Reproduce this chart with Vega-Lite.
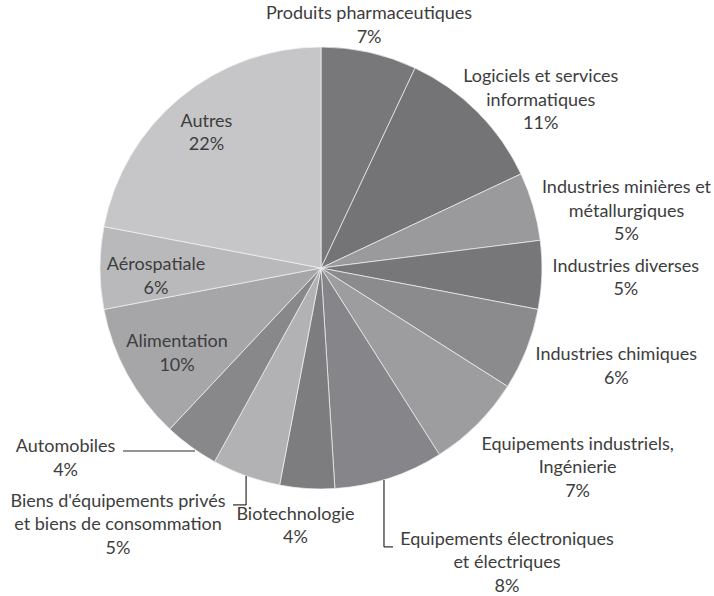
{
  "$schema": "https://vega.github.io/schema/vega-lite/v6.json",
  "width": 642,
  "height": 536,
  "autosize": {"type": "none"},
  "padding": {"left": 0, "top": 0, "right": 72, "bottom": 60},
  "background": "white",
  "config": {"view": {"stroke": null}, "text": {"font": "Lato", "fontSize": 18, "fill": "#3d3d3d"}},
  "data": {"values": [
    {"rank": 1, "name": "Produits pharmaceutiques", "share": 7},
    {"rank": 2, "name": "Logiciels et services\ninformatiques", "share": 11},
    {"rank": 3, "name": "Industries minières et\nmétallurgiques", "share": 5},
    {"rank": 4, "name": "Industries diverses", "share": 5},
    {"rank": 5, "name": "Industries chimiques", "share": 6},
    {"rank": 6, "name": "Equipements industriels,\nIngénierie", "share": 7},
    {"rank": 7, "name": "Equipements électroniques\net électriques", "share": 8},
    {"rank": 8, "name": "Biotechnologie", "share": 4},
    {"rank": 9, "name": "Biens d'équipements  privés\net biens de consommation", "share": 5},
    {"rank": 10, "name": "Automobiles", "share": 4},
    {"rank": 11, "name": "Alimentation", "share": 10},
    {"rank": 12, "name": "Aérospatiale", "share": 6},
    {"rank": 13, "name": "Autres", "share": 22}
  ]},
  "transform": [
    {"stack": "share", "groupby": [], "sort": [{"field": "rank", "order": "ascending"}], "as": ["s0", "s1"]},
    {"calculate": "(datum.s0 + datum.s1) / 2", "as": "mid"},
    {"calculate": "datum.name + '\\n' + datum.share + '%'", "as": "label"}
  ],
  "layer": [
    {
      "mark": {"type": "arc", "outerRadius": 221, "stroke": "#f2f2f2", "strokeWidth": 0.7},
      "encoding": {
        "theta": {"field": "s0", "type": "quantitative", "scale": {"domain": [0, 100]}},
        "theta2": {"field": "s1"},
        "color": {"field": "rank", "type": "ordinal", "legend": null,
          "scale": {"domain": [1,2,3,4,5,6,7,8,9,10,11,12,13],
            "range": ["#78787b", "#747477", "#9a9a9d", "#77777a", "#8b8b8e", "#9d9da0", "#86868a", "#7d7d80", "#b2b2b4", "#88888b", "#a6a6a8", "#b9b9bb", "#c6c6c8"]}}
      }
    },
    {"transform": [{"filter": "datum.rank == 1"}], "mark": {"type": "text", "radius": 257, "dx": -8, "dy": -3, "lineBreak": "\n", "lineHeight": 23.5, "align": "center", "baseline": "middle"},
     "encoding": {"theta": {"field": "mid", "type": "quantitative", "stack": null, "scale": {"domain": [0, 100]}}, "text": {"field": "label"}}},
    {"transform": [{"filter": "datum.rank == 2"}], "mark": {"type": "text", "radius": 291, "dx": 14, "dy": 15, "lineBreak": "\n", "lineHeight": 23.5, "align": "center", "baseline": "middle"},
     "encoding": {"theta": {"field": "mid", "type": "quantitative", "stack": null, "scale": {"domain": [0, 100]}}, "text": {"field": "label"}}},
    {"transform": [{"filter": "datum.rank == 3"}], "mark": {"type": "text", "radius": 315, "dx": 3, "dy": 8, "lineBreak": "\n", "lineHeight": 23.5, "align": "center", "baseline": "middle"},
     "encoding": {"theta": {"field": "mid", "type": "quantitative", "stack": null, "scale": {"domain": [0, 100]}}, "text": {"field": "label"}}},
    {"transform": [{"filter": "datum.rank == 4"}], "mark": {"type": "text", "radius": 305, "dx": 0, "dy": -11, "lineBreak": "\n", "lineHeight": 23.5, "align": "center", "baseline": "middle"},
     "encoding": {"theta": {"field": "mid", "type": "quantitative", "stack": null, "scale": {"domain": [0, 100]}}, "text": {"field": "label"}}},
    {"transform": [{"filter": "datum.rank == 5"}], "mark": {"type": "text", "radius": 308, "dx": 9, "dy": -26, "lineBreak": "\n", "lineHeight": 23.5, "align": "center", "baseline": "middle"},
     "encoding": {"theta": {"field": "mid", "type": "quantitative", "stack": null, "scale": {"domain": [0, 100]}}, "text": {"field": "label"}}},
    {"transform": [{"filter": "datum.rank == 6"}], "mark": {"type": "text", "radius": 312, "dx": 36, "dy": -44, "lineBreak": "\n", "lineHeight": 23.5, "align": "center", "baseline": "middle"},
     "encoding": {"theta": {"field": "mid", "type": "quantitative", "stack": null, "scale": {"domain": [0, 100]}}, "text": {"field": "label"}}},
    {"transform": [{"filter": "datum.rank == 7"}], "mark": {"type": "text", "radius": 330, "dx": 84, "dy": -42, "lineBreak": "\n", "lineHeight": 23.5, "align": "center", "baseline": "middle"},
     "encoding": {"theta": {"field": "mid", "type": "quantitative", "stack": null, "scale": {"domain": [0, 100]}}, "text": {"field": "label"}}},
    {"transform": [{"filter": "datum.rank == 8"}], "mark": {"type": "text", "radius": 247, "dx": -10, "dy": 0, "lineBreak": "\n", "lineHeight": 23.5, "align": "center", "baseline": "middle"},
     "encoding": {"theta": {"field": "mid", "type": "quantitative", "stack": null, "scale": {"domain": [0, 100]}}, "text": {"field": "label"}}},
    {"transform": [{"filter": "datum.rank == 9"}], "mark": {"type": "text", "radius": 310, "dx": -98, "dy": -58, "lineBreak": "\n", "lineHeight": 23.5, "align": "center", "baseline": "middle"},
     "encoding": {"theta": {"field": "mid", "type": "quantitative", "stack": null, "scale": {"domain": [0, 100]}}, "text": {"field": "label"}}},
    {"transform": [{"filter": "datum.rank == 10"}], "mark": {"type": "text", "radius": 312, "dx": -72, "dy": -73, "lineBreak": "\n", "lineHeight": 23.5, "align": "center", "baseline": "middle"},
     "encoding": {"theta": {"field": "mid", "type": "quantitative", "stack": null, "scale": {"domain": [0, 100]}}, "text": {"field": "label"}}},
    {"transform": [{"filter": "datum.rank == 11"}], "mark": {"type": "text", "radius": 162, "dx": -2, "dy": -4, "lineBreak": "\n", "lineHeight": 23.5, "align": "center", "baseline": "middle"},
     "encoding": {"theta": {"field": "mid", "type": "quantitative", "stack": null, "scale": {"domain": [0, 100]}}, "text": {"field": "label"}}},
    {"transform": [{"filter": "datum.rank == 12"}], "mark": {"type": "text", "radius": 165, "dx": 0, "dy": -3, "lineBreak": "\n", "lineHeight": 23.5, "align": "center", "baseline": "middle"},
     "encoding": {"theta": {"field": "mid", "type": "quantitative", "stack": null, "scale": {"domain": [0, 100]}}, "text": {"field": "label"}}},
    {"transform": [{"filter": "datum.rank == 13"}], "mark": {"type": "text", "radius": 186, "dx": 4, "dy": -3, "lineBreak": "\n", "lineHeight": 23.5, "align": "center", "baseline": "middle"},
     "encoding": {"theta": {"field": "mid", "type": "quantitative", "stack": null, "scale": {"domain": [0, 100]}}, "text": {"field": "label"}}},
    {"transform": [{"filter": "datum.rank == 10"}], "mark": {"type": "rule", "color": "#2a2a2a", "strokeWidth": 1.2},
     "encoding": {
       "x": {"datum": -0.896, "type": "quantitative", "scale": {"domain": [-1.4525, 1.4525], "nice": false, "zero": false}, "axis": null},
       "x2": {"datum": -0.570},
       "y": {"datum": -0.828, "type": "quantitative", "scale": {"domain": [-1.2127, 1.2127], "nice": false, "zero": false}, "axis": null}}},
    {"transform": [{"filter": "datum.rank == 9"}], "mark": {"type": "rule", "color": "#2a2a2a", "strokeWidth": 1.2},
     "encoding": {
       "x": {"datum": -0.398, "type": "quantitative", "scale": {"domain": [-1.4525, 1.4525], "nice": false, "zero": false}, "axis": null},
       "x2": {"datum": -0.339},
       "y": {"datum": -1.072, "type": "quantitative", "scale": {"domain": [-1.2127, 1.2127], "nice": false, "zero": false}, "axis": null}}},
    {"transform": [{"filter": "datum.rank == 9"}], "mark": {"type": "rule", "color": "#2a2a2a", "strokeWidth": 1.2},
     "encoding": {
       "x": {"datum": -0.339, "type": "quantitative", "scale": {"domain": [-1.4525, 1.4525], "nice": false, "zero": false}, "axis": null},
       "y": {"datum": -1.072, "type": "quantitative", "scale": {"domain": [-1.2127, 1.2127], "nice": false, "zero": false}, "axis": null},
       "y2": {"datum": -0.941}}},
    {"transform": [{"filter": "datum.rank == 7"}], "mark": {"type": "rule", "color": "#2a2a2a", "strokeWidth": 1.2},
     "encoding": {
       "x": {"datum": 0.285, "type": "quantitative", "scale": {"domain": [-1.4525, 1.4525], "nice": false, "zero": false}, "axis": null},
       "y": {"datum": -1.262, "type": "quantitative", "scale": {"domain": [-1.2127, 1.2127], "nice": false, "zero": false}, "axis": null},
       "y2": {"datum": -0.959}}},
    {"transform": [{"filter": "datum.rank == 7"}], "mark": {"type": "rule", "color": "#2a2a2a", "strokeWidth": 1.2},
     "encoding": {
       "x": {"datum": 0.285, "type": "quantitative", "scale": {"domain": [-1.4525, 1.4525], "nice": false, "zero": false}, "axis": null},
       "x2": {"datum": 0.326},
       "y": {"datum": -1.262, "type": "quantitative", "scale": {"domain": [-1.2127, 1.2127], "nice": false, "zero": false}, "axis": null}}}
  ]
}
